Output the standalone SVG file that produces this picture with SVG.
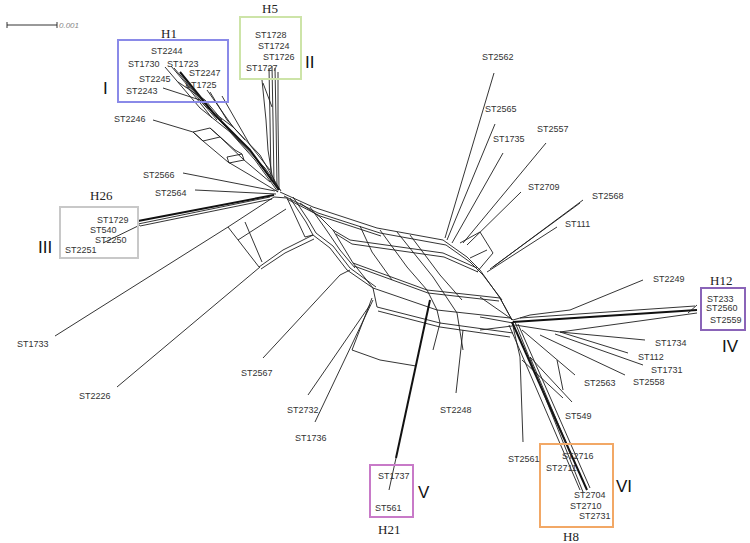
<svg xmlns="http://www.w3.org/2000/svg" width="750" height="543" viewBox="0 0 750 543">
<defs>
<style>
.e{fill:none;stroke:#1e1e1e;stroke-width:0.9;stroke-linejoin:round}
.t{fill:none;stroke:#111;stroke-width:2;stroke-linejoin:round}
.lb{font-family:"Liberation Sans",Arial,sans-serif;font-size:9px;fill:#333}
.hl{font-family:"Liberation Serif","Times New Roman",serif;font-size:13px;fill:#222}
.rn{font-family:"Liberation Sans",Arial,sans-serif;font-size:17px;fill:#111}
.bx{fill:none;stroke-width:2}
</style>
</defs>
<rect width="750" height="543" fill="#fff"/>
<g id="scale">
<path class="e" d="M7,25 L57,25 M7,22 L7,28 M57,22 L57,28" stroke="#777"/>
<text x="59" y="28" style="font-family:'Liberation Sans',sans-serif;font-size:8px;font-style:italic;fill:#888">0.001</text>
</g>
<g id="connectors">
<!-- H1 fan -->
<path class="e" d="M165,67 L200,108 L230,132 L255,160 L278,192"/>
<path class="e" d="M171,66 L205,106 L233,127 L260,155 L280,190"/>
<path class="e" d="M174,68 L210,110 L238,140 L265,168 L281,191"/>
<path class="t" d="M180,72 L215,115 L250,150 L279,190"/>
<path class="e" d="M178,82 L205,100 L222,120"/>
<path class="e" d="M163,88 L200,100 L217,120"/>
<path class="e" d="M186,85 L212,118"/>
<path class="e" d="M207,90 L233,127"/>
<path class="e" d="M210,92 L227,120 L245,140"/>
<path class="e" d="M222,96 L250,145 L270,170"/>
<path class="e" d="M153,120 L193,132 L203,141 L228,162 L255,178 L278,192"/>
<path class="e" d="M193,132 L210,128 L220,137 L203,141 Z"/>
<path class="e" d="M227,157 L242,154 L244,160 L229,163 Z"/>
<path class="e" d="M210,128 L235,150 L242,154 M220,137 L244,160 L270,182"/>
<!-- H5 -->
<path class="e" d="M262,80 L266,120 L268,150 L272,175 L278,190"/>
<path class="e" d="M269,68 L270,120 L271,182"/>
<path class="e" d="M272,66 L273,120 L274,184"/>
<path class="e" d="M275,68 L276,120 L277,186"/>
<path class="e" d="M278,72 L278,120 L279,188"/>
<path class="e" d="M263,83 L272,107"/>
<!-- ST2566 / ST2564 / H26 -->
<path class="e" d="M183,173 L275,191"/>
<path class="e" d="M195,190 L276,194"/>
<path class="t" d="M138,221 L274,195"/>
<path class="e" d="M138,224 L270,197"/>
<path class="e" d="M140,226 L272,199"/>
<path class="e" d="M103,243 L140,225"/>
<!-- lower-left box -->
<path class="e" d="M228,227 L274,197 L287,198 L305,237 L313,235"/>
<path class="e" d="M238,240 L286,209"/>
<path class="e" d="M228,227 L259,267 L283,250 L313,235"/>
<path class="e" d="M261,269 L285,253 L314,239"/>
<path class="e" d="M245,222 L262,262"/>
<path class="e" d="M55,336 L228,227"/>
<path class="e" d="M117,387 L260,267"/>
<!-- central mesh -->
<path class="e" d="M280,192 L313,207 L377,228 L443,240"/>
<path class="e" d="M284,196 L318,213 L380,233 L446,245"/>
<path class="e" d="M287,199 L320,216 L381,236"/>
<path class="e" d="M290,198 L306,222 L313,235 L330,248 L347,270 L373,288 L377,307"/>
<path class="e" d="M293,197 L309,221 L316,233 L333,246 L350,268 L376,287"/>
<path class="e" d="M300,203 L320,217 L333,230 L353,263 L373,288"/>
<path class="e" d="M310,207 L325,228 L340,250 L355,268"/>
<path class="e" d="M333,230 L350,240 L443,253 L477,268"/>
<path class="e" d="M336,234 L352,244 L444,257 L478,272"/>
<path class="e" d="M353,263 L427,290 L500,298 L512,320"/>
<path class="e" d="M354,266 L428,293 L499,301"/>
<path class="e" d="M373,288 L437,310 L510,318"/>
<path class="e" d="M377,307 L440,323 L513,333"/>
<path class="e" d="M378,311 L440,327 L510,337"/>
<path class="e" d="M380,230 L407,267 L427,290 L437,310 L440,323 L433,350"/>
<path class="e" d="M397,232 L433,277 L457,313 L463,350"/>
<path class="e" d="M410,235 L440,275 L462,300"/>
<path class="e" d="M360,226 L372,252 L392,280"/>
<path class="e" d="M443,240 L467,257 L480,270 L500,298 L512,320"/>
<path class="e" d="M446,245 L470,262 L483,275 L502,300"/>
<path class="e" d="M460,243 L480,232 L493,253 L477,272 M470,258 L487,250"/>
<!-- upper-right fan -->
<path class="e" d="M494,73 L445,238"/>
<path class="e" d="M495,124 L447,240"/>
<path class="e" d="M503,153 L452,243"/>
<path class="e" d="M546,143 L463,243"/>
<path class="e" d="M521,192 L467,245"/>
<path class="e" d="M583,200 L493,267"/>
<path class="e" d="M580,203 L490,269"/>
<path class="e" d="M557,227 L487,272"/>
<!-- hub B -->
<path class="e" d="M480,297 L513,320 M480,317 L513,323 M480,330 L512,326"/>
<path class="e" d="M513,320 L530,315 L570,310 L643,280"/>
<path class="t" d="M513,322 L697,310"/>
<path class="e" d="M515,325 L560,332 L697,313"/>
<path class="e" d="M520,318 L695,306 M688,313 L697,305"/>
<path class="e" d="M560,332 L645,340"/>
<path class="e" d="M560,332 L628,353"/>
<path class="e" d="M555,334 L643,365"/>
<path class="e" d="M540,335 L625,375"/>
<path class="e" d="M522,330 L575,375"/>
<path class="e" d="M522,360 L563,398 M557,360 L563,390 M530,357 L572,402"/>
<path class="e" d="M512,322 L520,357 L523,442"/>
<path class="t" d="M512,322 L587,490"/>
<path class="e" d="M515,322 L583,492"/>
<path class="e" d="M518,324 L590,488"/>
<path class="e" d="M509,325 L580,490"/>
<path class="e" d="M530,357 L570,452"/>
<!-- lower structures -->
<path class="e" d="M372,298 L352,350 L380,360 L416,366"/>
<path class="t" d="M430,300 L396,458"/>
<path class="e" d="M396,458 L389,490"/>
<path class="e" d="M463,330 L456,393"/>
<path class="e" d="M263,358 L340,275 L350,270"/>
<path class="e" d="M308,395 L370,305"/>
<path class="e" d="M315,422 L373,300"/>
</g>
<g id="H1"><rect class="bx" x="118" y="40" width="110" height="62" stroke="#8a8ae8"/><text class="hl" x="161" y="38">H1</text><text class="rn" x="103" y="94">I</text></g>
<g id="H5"><rect class="bx" x="240" y="17" width="61" height="62" stroke="#cde4a8"/><text class="hl" x="262" y="13">H5</text><text class="rn" x="305" y="68">II</text></g>
<g id="H26"><rect class="bx" x="60" y="207" width="78" height="51" stroke="#c8c8c8"/><text class="hl" x="90" y="200">H26</text><text class="rn" x="38" y="253">III</text></g>
<g id="H12"><rect class="bx" x="701" y="288" width="44" height="42" stroke="#8a64b8"/><text class="hl" x="710" y="285">H12</text><text class="rn" x="722" y="352">IV</text></g>
<g id="H21"><rect class="bx" x="370" y="465" width="43" height="52" stroke="#c87ac8"/><text class="hl" x="378" y="534">H21</text><text class="rn" x="418" y="498">V</text></g>
<g id="H8"><rect class="bx" x="540" y="444" width="73" height="83" stroke="#f2a866"/><text class="hl" x="563" y="541">H8</text><text class="rn" x="616" y="492">VI</text></g>
<g id="labels">
<text class="lb" x="151" y="54">ST2244</text>
<text class="lb" x="128" y="67">ST1730</text>
<text class="lb" x="167" y="67">ST1723</text>
<text class="lb" x="189" y="76">ST2247</text>
<text class="lb" x="139" y="82">ST2245</text>
<text class="lb" x="185" y="88">ST1725</text>
<text class="lb" x="126" y="94">ST2243</text>
<text class="lb" x="114" y="122">ST2246</text>
<text class="lb" x="255" y="38">ST1728</text>
<text class="lb" x="258" y="49">ST1724</text>
<text class="lb" x="263" y="60">ST1726</text>
<text class="lb" x="246" y="71">ST1727</text>
<text class="lb" x="143" y="178">ST2566</text>
<text class="lb" x="155" y="196">ST2564</text>
<text class="lb" x="97" y="223">ST1729</text>
<text class="lb" x="90" y="233">ST540</text>
<text class="lb" x="95" y="243">ST2250</text>
<text class="lb" x="65" y="253">ST2251</text>
<text class="lb" x="17" y="347">ST1733</text>
<text class="lb" x="79" y="399">ST2226</text>
<text class="lb" x="241" y="376">ST2567</text>
<text class="lb" x="287" y="413">ST2732</text>
<text class="lb" x="295" y="441">ST1736</text>
<text class="lb" x="482" y="60">ST2562</text>
<text class="lb" x="485" y="112">ST2565</text>
<text class="lb" x="493" y="142">ST1735</text>
<text class="lb" x="537" y="132">ST2557</text>
<text class="lb" x="528" y="190">ST2709</text>
<text class="lb" x="592" y="199">ST2568</text>
<text class="lb" x="565" y="227">ST111</text>
<text class="lb" x="653" y="282">ST2249</text>
<text class="lb" x="707" y="302">ST233</text>
<text class="lb" x="706" y="311">ST2560</text>
<text class="lb" x="710" y="323">ST2559</text>
<text class="lb" x="655" y="346">ST1734</text>
<text class="lb" x="638" y="360">ST112</text>
<text class="lb" x="651" y="373">ST1731</text>
<text class="lb" x="584" y="386">ST2563</text>
<text class="lb" x="633" y="385">ST2558</text>
<text class="lb" x="440" y="413">ST2248</text>
<text class="lb" x="565" y="419">ST549</text>
<text class="lb" x="508" y="462">ST2561</text>
<text class="lb" x="562" y="459">ST2716</text>
<text class="lb" x="546" y="471">ST2711</text>
<text class="lb" x="378" y="479">ST1737</text>
<text class="lb" x="375" y="511">ST561</text>
<text class="lb" x="574" y="498">ST2704</text>
<text class="lb" x="570" y="509">ST2710</text>
<text class="lb" x="579" y="519">ST2731</text>
</g>
</svg>
